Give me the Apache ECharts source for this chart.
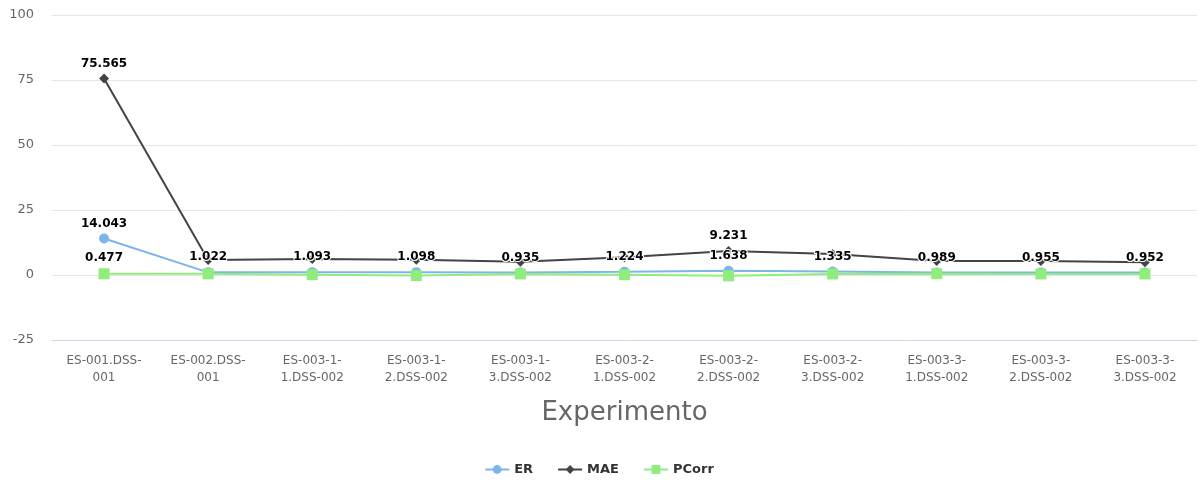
<!DOCTYPE html>
<html>
<head>
<meta charset="utf-8">
<script src="https://cdn.jsdelivr.net/npm/echarts@6/dist/echarts.min.js"></script>
<style>
    html, body { margin: 0; padding: 0; background: #fff; }
    #chart { width: 1198px; height: 482px; }
</style>
</head>
<body>
<div id="chart"></div>
<script>
var categories = [
    'ES-001.DSS-001', 'ES-002.DSS-001',
    'ES-003-1-1.DSS-002', 'ES-003-1-2.DSS-002', 'ES-003-1-3.DSS-002',
    'ES-003-2-1.DSS-002', 'ES-003-2-2.DSS-002', 'ES-003-2-3.DSS-002',
    'ES-003-3-1.DSS-002', 'ES-003-3-2.DSS-002', 'ES-003-3-3.DSS-002'
];
var erValues = [14.043, 1.022, 1.093, 1.098, 0.935, 1.224, 1.638, 1.335, 0.989, 0.955, 0.952];
var maeValues = [75.565, 5.8, 6.2, 5.9, 5.1, 6.8, 9.231, 8.1, 5.4, 5.4, 4.9];
var pcorrValues = [0.477, 0.45, 0.1, -0.2, 0.4, 0.1, -0.3, 0.4, 0.5, 0.4, 0.4];

// which point labels stay visible (the rest are hidden by overlap in the original)
var maeLabelShown = [0, 6];
var pcorrLabelShown = [0];

var yTicks = [-25, 0, 25, 50, 75, 100];

var labelStyle = {
    show: true,
    position: 'top',
    distance: 4,
    fontFamily: 'DejaVu Sans',
    fontSize: 12,
    fontWeight: 'bold',
    color: '#000',
    textBorderColor: '#fff',
    textBorderWidth: 2,
    formatter: function (p) { return p.value.toFixed(3); }
};

function withLabels(values, shown) {
    return values.map(function (v, i) {
        return { value: v, label: { show: shown.indexOf(i) >= 0 } };
    });
}

function wrapCategory(name) {
    if (/^ES-\d{3}-\d-/.test(name)) {
        return name.replace(/^(ES-\d{3}-\d-)/, '$1\n');
    }
    return name.replace(/(DSS-)/, '$1\n');
}

var chart = echarts.init(document.getElementById('chart'), null, { renderer: 'canvas' });

chart.setOption({
    animation: false,
    textStyle: { fontFamily: 'DejaVu Sans' },
    color: ['#7cb5ec', '#434348', '#90ed7d'],
    grid: { left: 52, right: 1, top: 15, bottom: 142, containLabel: false },
    legend: {
        bottom: 1,
        left: 'center',
        itemWidth: 24,
        itemHeight: 11,
        itemGap: 24,
        textStyle: { fontSize: 13, fontWeight: 'bold', color: '#333' },
        data: ['ER', 'MAE', 'PCorr']
    },
    xAxis: {
        type: 'category',
        data: categories,
        name: 'Experimento',
        nameLocation: 'middle',
        nameGap: 60,
        nameTextStyle: { fontSize: 26, color: '#666' },
        axisLine: { onZero: false, lineStyle: { color: '#ccd6eb' } },
        axisTick: { length: 10, lineStyle: { color: '#ccd6eb' } },
        axisLabel: {
            color: '#666',
            fontSize: 12,
            lineHeight: 17,
            margin: 12,
            interval: 0,
            formatter: wrapCategory
        }
    },
    yAxis: {
        type: 'value',
        min: yTicks[0],
        max: yTicks[yTicks.length - 1],
        interval: 25,
        axisLine: { show: false },
        axisTick: { show: false },
        axisLabel: { color: '#666', fontSize: 13, margin: 18 },
        splitLine: { lineStyle: { color: '#e6e6e6' } }
    },
    series: [
        {
            name: 'ER',
            type: 'line',
            data: erValues,
            symbol: 'circle',
            symbolSize: 10,
            lineStyle: { width: 2 },
            label: labelStyle,
            z: 3
        },
        {
            name: 'MAE',
            type: 'line',
            data: withLabels(maeValues, maeLabelShown),
            symbol: 'diamond',
            symbolSize: 10,
            lineStyle: { width: 2 },
            label: labelStyle,
            z: 2
        },
        {
            name: 'PCorr',
            type: 'line',
            data: withLabels(pcorrValues, pcorrLabelShown),
            symbol: 'rect',
            symbolSize: 11,
            lineStyle: { width: 2 },
            label: labelStyle,
            z: 4
        }
    ]
});
</script>
</body>
</html>
